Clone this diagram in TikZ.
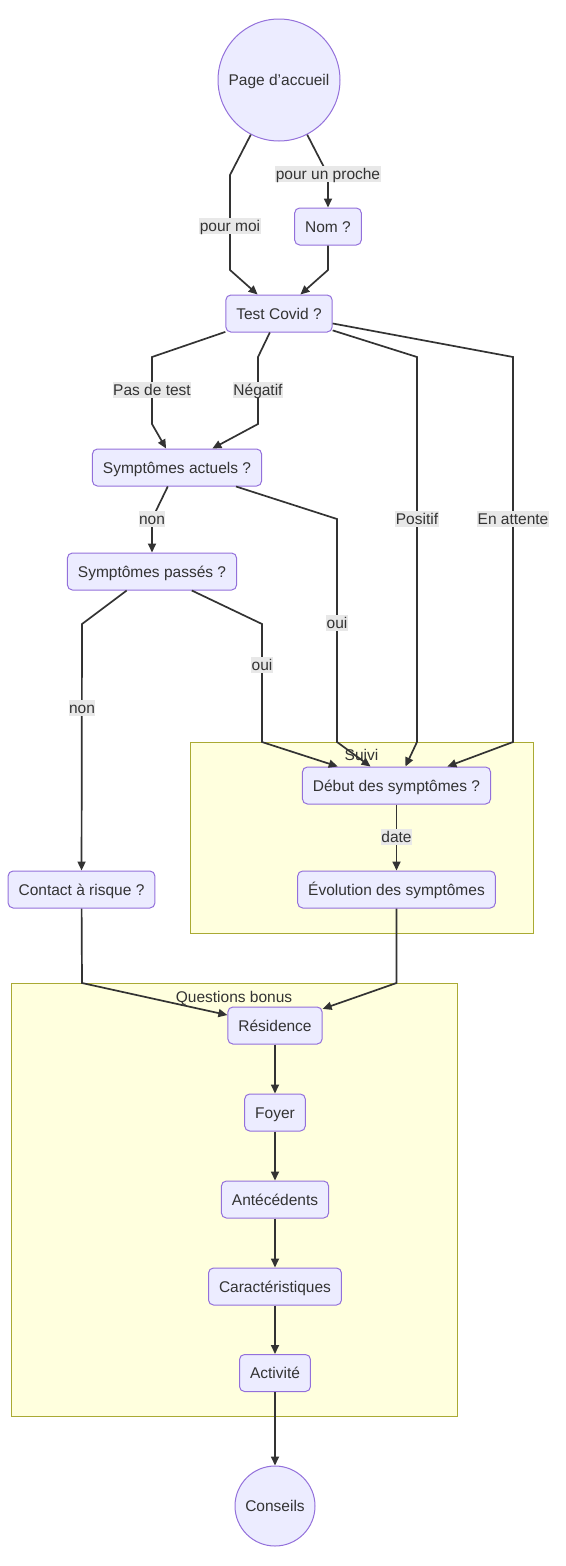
\documentclass[tikz,border=0pt]{standalone}
\usepackage{fontspec}
\setmainfont{Liberation Sans}
\usetikzlibrary{arrows.meta}
\definecolor{nodefill}{HTML}{ECECFF}
\definecolor{nodeline}{HTML}{9370DB}
\definecolor{clusterfill}{HTML}{FFFFDE}
\definecolor{clusterline}{HTML}{AAAA33}
\definecolor{edgeline}{HTML}{333333}
\definecolor{labelfill}{HTML}{E8E8E8}
\begin{document}
\begin{tikzpicture}[x=1pt,y=1pt,
		every node/.style={font=\fontsize{15.5}{18}\selectfont, text=edgeline, text height=12pt, text depth=0.5pt},
		box/.style={draw=nodeline, fill=nodefill, line width=1pt, rounded corners=5pt, minimum height=37pt, inner xsep=10.5pt, inner ysep=0pt},
		ronde/.style={draw=nodeline, fill=nodefill, line width=1pt, circle, inner sep=0pt},
		cluster/.style={draw=clusterline, fill=clusterfill, line width=1pt},
		fleche/.style={draw=edgeline, line width=1.7pt, -{Triangle[length=9pt,width=8pt]}},
		etiquette/.style={fill=labelfill, inner xsep=0.5pt, inner ysep=1pt, text height=12.5pt, text depth=1.5pt}]
			\useasboundingbox (0,0) rectangle (565,-1566);
			% sous-graphes
			\draw [cluster] (190,-742) rectangle (533,-933);
			\node (suivi) at (361.5,-755) {Suivi};
			\draw [cluster] (11,-983) rectangle (457,-1416);
			\node (bonus) at (234,-997) {Questions bonus};
			% noeuds
			\node [ronde, minimum size=122pt] (accueil) at (279,-80) {Page d’accueil};
			\node [box] (nom) at (328,-226.5) {Nom ?};
			\node [box] (covid) at (279,-313.5) {Test Covid ?};
			\node [box] (actuels) at (177,-467.5) {Symptômes actuels ?};
			\node [box] (passes) at (152,-571.5) {Symptômes passés ?};
			\node [box] (debut) at (396.5,-785.5) {Début des symptômes ?};
			\node [box] (evolution) at (396.5,-889.5) {Évolution des symptômes};
			\node [box] (contact) at (81.5,-889.5) {Contact à risque ?};
			\node [box] (residence) at (275,-1025.5) {Résidence};
			\node [box] (foyer) at (275,-1112.5) {Foyer};
			\node [box] (antecedents) at (275,-1199.5) {Antécédents};
			\node [box] (caracteristiques) at (275,-1286.5) {Caractéristiques};
			\node [box] (activite) at (275,-1373) {Activité};
			\node [ronde, minimum size=80pt] (conseils) at (275,-1506) {Conseils};
			% liens
			\draw [fleche] (accueil) -- (230,-175) -- (230,-270) -- (covid);
			\draw [fleche] (accueil) -- (328,-175) -- (nom);
			\draw [fleche] (nom) -- (328,-270) -- (covid);
			\draw [fleche] (covid) -- (152,-357) -- (152,-424) -- (actuels);
			\draw [fleche] (covid) -- (258,-357) -- (258,-424) -- (actuels);
			\draw [fleche] (covid) -- (417,-357) -- (417,-742) -- (debut);
			\draw [fleche] (covid) -- (513,-357) -- (513,-742) -- (debut);
			\draw [fleche] (actuels) -- (152,-519) -- (passes);
			\draw [fleche] (actuels) -- (337,-519) -- (337,-742) -- (debut);
			\draw [fleche] (passes) -- (82,-624) -- (contact);
			\draw [fleche] (passes) -- (262,-624) -- (262,-742) -- (debut);
			\draw [fleche] (debut) -- (evolution);
			\draw [fleche] (contact) -- (82,-983) -- (residence);
			\draw [fleche] (evolution) -- (396.5,-983) -- (residence);
			\draw [fleche] (residence) -- (foyer);
			\draw [fleche] (foyer) -- (antecedents);
			\draw [fleche] (antecedents) -- (caracteristiques);
			\draw [fleche] (caracteristiques) -- (activite);
			\draw [fleche] (activite) -- (conseils);
			% etiquettes
			\node [etiquette] (lmoi) at (230,-226) {pour moi};
			\node [etiquette] (lproche) at (328,-174) {pour un proche};
			\node [etiquette] (lpasdetest) at (152,-390) {Pas de test};
			\node [etiquette] (lnegatif) at (258,-390) {Négatif};
			\node [etiquette] (lpositif) at (417,-519) {Positif};
			\node [etiquette] (lattente) at (513,-519) {En attente};
			\node [etiquette] (lnonactuels) at (152,-519) {non};
			\node [etiquette] (louiactuels) at (337,-623) {oui};
			\node [etiquette] (lnonpasses) at (82,-708) {non};
			\node [etiquette] (louipasses) at (262,-665) {oui};
			\node [etiquette] (ldate) at (396.5,-837) {date};
		\end{tikzpicture}
\end{document}
